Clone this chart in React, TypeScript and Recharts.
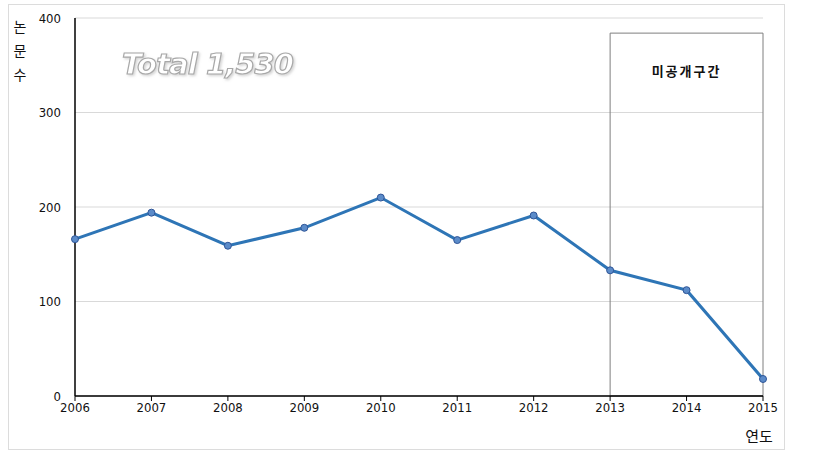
import { LineChart, Line, XAxis, YAxis, CartesianGrid, ReferenceArea } from "recharts";

// papers per year
const YEARS = ["2006", "2007", "2008", "2009", "2010", "2011", "2012", "2013", "2014", "2015"];
const PAPERS = [166, 194, 159, 178, 210, 165, 191, 133, 112, 18];
const Y_TICKS = [0, 100, 200, 300, 400];

const TOTAL_LABEL = "Total 1,530";
const CLOSED_LABEL = "미공개구간";
const CLOSED_FROM = "2013";
const CLOSED_TO = "2015";
const CLOSED_TOP = 384;

const chartData = YEARS.map((year, i) => ({ year, papers: PAPERS[i] }));

const TICK_FONT = "'DejaVu Sans Condensed', 'DejaVu Sans', sans-serif";
const KR_FONT = "'Noto Sans CJK KR', sans-serif";

export default function App() {
  return (
    <div style={{ position: "absolute", left: 0, top: 0, width: 830, height: 463, background: "#fff" }}>
      <div
        style={{
          position: "absolute",
          left: 8,
          top: 4,
          width: 777,
          height: 446,
          border: "1px solid #dcdcdc",
          boxSizing: "border-box",
        }}
      />
      <LineChart
        width={830}
        height={463}
        data={chartData}
        margin={{ top: 18, right: 67, left: 35, bottom: 37 }}
        style={{ position: "absolute", left: 0, top: 0 }}
      >
        <CartesianGrid vertical={false} stroke="#d9d9d9" />
        <XAxis
          dataKey="year"
          axisLine={{ stroke: "#000", strokeWidth: 1.5 }}
          tickLine={{ stroke: "#000" }}
          tickSize={5}
          height={30}
          tick={{ fontSize: 13, fill: "#111", fontFamily: TICK_FONT }}
          interval={0}
        />
        <YAxis
          domain={[0, 400]}
          ticks={Y_TICKS}
          width={40}
          axisLine={{ stroke: "#000", strokeWidth: 1.5 }}
          tickLine={false}
          tickMargin={8}
          tick={{ fontSize: 13, fill: "#111", fontFamily: TICK_FONT }}
        />
        <ReferenceArea
          x1={CLOSED_FROM}
          x2={CLOSED_TO}
          y1={0}
          y2={CLOSED_TOP}
          fill="#fff"
          fillOpacity={0}
          stroke="#7f7f7f"
          strokeWidth={1}
          label={{
            value: CLOSED_LABEL,
            position: "insideTop",
            offset: 34,
            fill: "#111",
            fontSize: 13,
            fontWeight: 600,
            fontFamily: KR_FONT,
            letterSpacing: 2,
          }}
        />
        <Line
          type="linear"
          dataKey="papers"
          stroke="#2e75b6"
          strokeWidth={3}
          dot={{ r: 3.5, fill: "#5b8bc9", stroke: "#2f5597", strokeWidth: 1 }}
          isAnimationActive={false}
        />
      </LineChart>
      <svg width={830} height={463} style={{ position: "absolute", left: 0, top: 0, pointerEvents: "none" }}>
        <defs>
          <filter id="shadow" x="-10%" y="-30%" width="120%" height="160%">
            <feDropShadow dx="1.5" dy="1.5" stdDeviation="1" floodColor="#aaa" floodOpacity={0.5} />
          </filter>
        </defs>
        <text
          x={122}
          y={74}
          fontSize={29}
          fontWeight="bold"
          fontStyle="italic"
          fontFamily="'DejaVu Sans', sans-serif"
          fill="#fff"
          stroke="#a8a8a8"
          strokeWidth={1.2}
          filter="url(#shadow)"
          textLength={172}
        >
          {TOTAL_LABEL}
        </text>
        {["논", "문", "수"].map((ch, i) => (
          <text
            key={ch}
            x={20}
            y={32 + i * 24}
            textAnchor="middle"
            fontSize={14}
            fontFamily={KR_FONT}
            fill="#111"
          >
            {ch}
          </text>
        ))}
        <text x={759} y={442} textAnchor="middle" fontSize={15} fontFamily={KR_FONT} fill="#111">
          연도
        </text>
      </svg>
    </div>
  );
}
